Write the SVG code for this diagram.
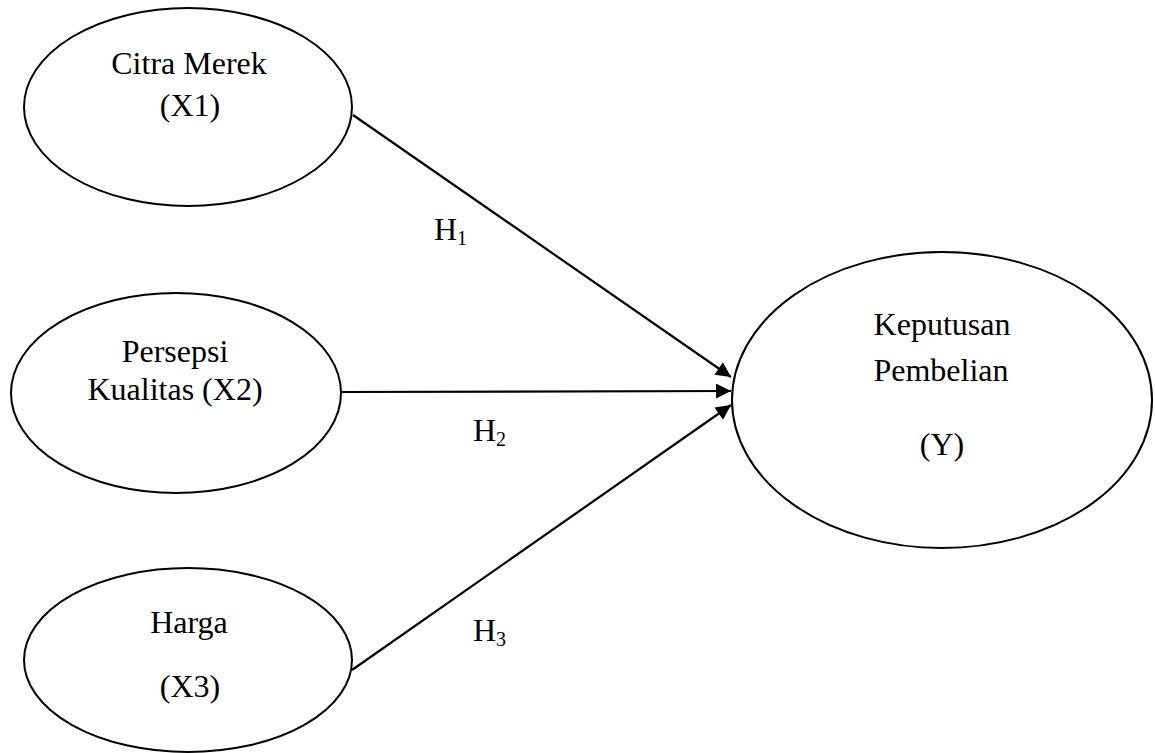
<svg xmlns="http://www.w3.org/2000/svg" width="1155" height="753" viewBox="0 0 1155 753">
<style>
.node ellipse{fill:#fff;stroke:#000;stroke-width:2}
text{font-family:"Liberation Serif","Times New Roman",serif;font-size:32px;fill:#000;text-anchor:middle}
.lbl{text-anchor:start}
.sub{font-size:20px}
.conn line{stroke:#000;stroke-width:2.2}
</style>
<defs>
<marker id="arr" viewBox="0 0 10 10" refX="10" refY="5" markerWidth="7.3" markerHeight="6.8" orient="auto" markerUnits="strokeWidth">
<path d="M0,0 L10,5 L0,10 z" fill="#000"/>
</marker>
</defs>
<rect width="1155" height="753" fill="#fff"/>
<g id="connectors" class="conn">
<line x1="353" y1="115" x2="731" y2="377" marker-end="url(#arr)"/>
<line x1="341" y1="392" x2="731" y2="391" marker-end="url(#arr)"/>
<line x1="352" y1="670" x2="731" y2="405" marker-end="url(#arr)"/>
</g>
<g id="n1" class="node">
<ellipse cx="188" cy="107" rx="164" ry="99"/>
<text x="189" y="74">Citra Merek</text>
<text x="190" y="116">(X1)</text>
</g>
<g id="n2" class="node">
<ellipse cx="176" cy="393" rx="165" ry="100"/>
<text x="175" y="362">Persepsi</text>
<text x="175" y="400">Kualitas (X2)</text>
</g>
<g id="n3" class="node">
<ellipse cx="188" cy="660" rx="164" ry="92"/>
<text x="189" y="633">Harga</text>
<text x="190" y="697">(X3)</text>
</g>
<g id="n4" class="node">
<ellipse cx="942" cy="400" rx="210" ry="148"/>
<text x="942" y="335">Keputusan</text>
<text x="941" y="381">Pembelian</text>
<text x="942" y="455">(Y)</text>
</g>
<g id="labels">
<text class="lbl" x="434" y="240">H<tspan class="sub" dy="5">1</tspan></text>
<text class="lbl" x="473" y="441">H<tspan class="sub" dy="5">2</tspan></text>
<text class="lbl" x="473" y="641">H<tspan class="sub" dy="5">3</tspan></text>
</g>
</svg>
